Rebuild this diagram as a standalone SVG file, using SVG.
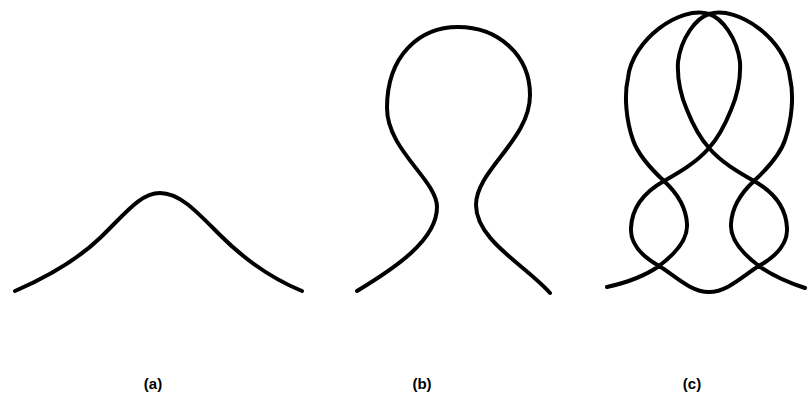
<svg xmlns="http://www.w3.org/2000/svg" width="807" height="399" viewBox="0 0 807 399">
<style>
.curve{fill:none;stroke:#000;stroke-width:4;stroke-linecap:round;stroke-linejoin:round}
.lbl{font-family:"Liberation Sans",Arial,sans-serif;font-size:15px;font-weight:bold;fill:#000;text-anchor:middle}
</style>
<rect width="807" height="399" fill="#fff"/>
<g id="fig-a">
<path class="curve" d="M15,291 C45,278 75,262 100,238 C125,214 140,193 160,193 C180,193 197,212 220,235 C245,260 275,280 302,291"/>
<text class="lbl" x="153" y="389">(a)</text>
</g>
<g id="fig-b">
<path class="curve" d="M357,291 C395,268 437,240 437,207 C437,180 387,150 387,108 C387,55 420,27 458,27 C498,27 530,55 530,95 C530,140 476,170 476,205 C476,240 525,265 550,293"/>
<text class="lbl" x="422" y="389">(b)</text>
</g>
<g id="fig-c">
<path class="curve" d="M607,287 C625,283 645,276 659,266 C675,254 688,240 687,224 C686,205 676,192 664,181 C650,168 638,155 633,140 C626,120 624,95 628,78 C632,40 680,5 709,14 C722,18 737,38 740,62 C741,80 737,96 731,110 C725,125 718,138 709,148 C697,162 680,172 664,181 C648,190 632,205 631,228 C630,245 645,258 659,266 C673,274 690,292 709,292 C728,292 745,274 759,266 C773,258 788,245 787,228 C786,205 770,190 754,181 C738,172 721,162 709,148 C700,138 693,125 687,110 C681,96 677,80 678,62 C681,38 696,18 709,14 C738,5 786,40 790,78 C794,95 792,120 785,140 C780,155 768,168 754,181 C742,192 732,205 731,224 C730,240 743,254 759,266 C773,276 790,283 805,288"/>
<text class="lbl" x="692" y="389">(c)</text>
</g>
</svg>
